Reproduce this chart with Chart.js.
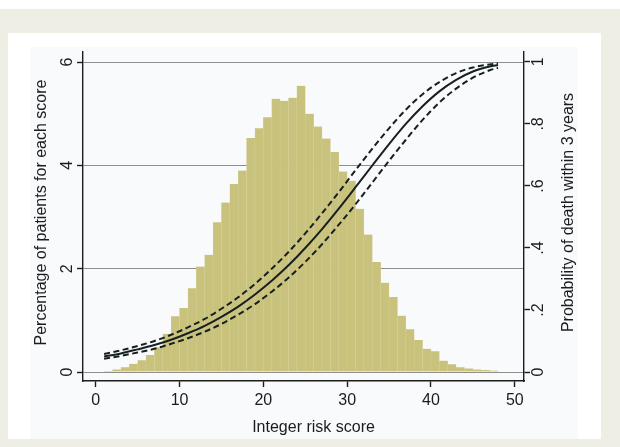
<!DOCTYPE html>
<html>
<head>
<meta charset="utf-8">
<title>Integer risk score</title>
<script src="https://cdn.jsdelivr.net/npm/chart.js@4.4.1/dist/chart.umd.min.js"></script>
<style>
  html, body { margin: 0; padding: 0; }
  body { width: 620px; height: 447px; background: #ffffff; position: relative; overflow: hidden; }
  .band { position: absolute; left: 0; top: 9px; width: 620px; height: 438px; background: #eeeee4; }
  .panel { position: absolute; left: 8px; top: 33px; width: 593px; height: 406px; background: #ffffff; }
  .region { position: absolute; left: 30px; top: 47px; width: 548px; height: 392px; background: #f9fafc; }
  .wrap { position: absolute; left: 0; top: 0; width: 620px; height: 447px; }
</style>
</head>
<body>
<div class="band"></div>
<div class="panel"></div>
<div class="region"></div>
<div class="wrap"><canvas id="riskChart" width="620" height="447"></canvas></div>
<script>
// histogram bins (score k covers k..k+1) and % of patients in each
const binStart = [1, 2, 3, 4, 5, 6, 7, 8, 9, 10, 11, 12, 13, 14, 15, 16, 17, 18, 19, 20, 21, 22, 23, 24,
    25, 26, 27, 28, 29, 30, 31, 32, 33, 34, 35, 36, 37, 38, 39, 40, 41, 42, 43, 44, 45, 46, 47];
const pctPatients = [0.02, 0.05, 0.09, 0.16, 0.23, 0.33, 0.48, 0.74, 1.08, 1.24, 1.62, 2.04, 2.27, 2.90,
    3.28, 3.64, 3.90, 4.53, 4.72, 4.93, 5.29, 5.25, 5.31, 5.54, 5.00, 4.75, 4.52, 4.26, 3.88, 3.70,
    3.16, 2.66, 2.13, 1.73, 1.45, 1.09, 0.83, 0.62, 0.45, 0.40, 0.22, 0.15, 0.09, 0.07, 0.05, 0.04, 0.03];

// probability of death within 3 years, with the dashed band around it
const curveScores = [1, 3, 5, 7, 9, 11, 13, 15, 17, 19, 21, 23, 25, 27, 29, 31, 33, 35, 37, 39, 41, 43, 45, 47, 48];
const probDeath = [0.050, 0.060, 0.073, 0.087, 0.104, 0.125, 0.149, 0.178, 0.211, 0.250, 0.294, 0.344, 0.400,
    0.461, 0.527, 0.596, 0.666, 0.735, 0.800, 0.857, 0.905, 0.942, 0.969, 0.985, 0.990];
const probUpper = [0.058, 0.070, 0.084, 0.100, 0.120, 0.144, 0.171, 0.204, 0.241, 0.284, 0.333, 0.387, 0.447,
    0.512, 0.580, 0.651, 0.720, 0.786, 0.846, 0.896, 0.935, 0.964, 0.982, 0.992, 0.995];
const probLower = [0.043, 0.052, 0.063, 0.075, 0.091, 0.109, 0.130, 0.155, 0.185, 0.219, 0.259, 0.304, 0.355,
    0.412, 0.475, 0.541, 0.611, 0.681, 0.749, 0.813, 0.869, 0.914, 0.949, 0.973, 0.981];

const scoreTicks = [0, 10, 20, 30, 40, 50];
const pctTicks = [0, 2, 4, 6];
const probTicks = [0, 0.2, 0.4, 0.6, 0.8, 1];
const probTickLabels = ['0', '.2', '.4', '.6', '.8', '1'];

const ink = '#1c1c1c';
const fontFamily = '"Liberation Sans", Arial, Helvetica, sans-serif';
const tickFont = { family: fontFamily, size: 16 };

const toPoints = (xs, ys) => xs.map((x, i) => ({ x: x, y: ys[i] }));
const fixTicks = values => scale => { scale.ticks = values.map(v => ({ value: v })); };

// Stata style axis titles (right one reads bottom to top)
const axisTitles = {
    id: 'axisTitles',
    afterDraw(chart) {
        const { ctx, chartArea } = chart;
        const midY = (chartArea.top + chartArea.bottom) / 2 - 4;
        ctx.save();
        ctx.fillStyle = ink;
        ctx.font = '16px ' + fontFamily;
        ctx.textAlign = 'center';
        ctx.textBaseline = 'middle';
        ctx.fillText('Integer risk score', (chartArea.left + chartArea.right) / 2 + 10, 428);
        [[42, 'Percentage of patients for each score'], [569, 'Probability of death within 3 years']].forEach(([x, text]) => {
            ctx.save();
            ctx.translate(x, midY);
            ctx.rotate(-Math.PI / 2);
            ctx.fillText(text, 0, 0);
            ctx.restore();
        });
        ctx.restore();
    }
};

const curve = (data, dashed) => ({
    type: 'line',
    data: toPoints(curveScores, data),
    yAxisID: 'y2',
    borderColor: '#17201f',
    borderWidth: 2,
    borderDash: dashed ? [6, 3.5] : [],
    pointRadius: 0,
    fill: false,
    cubicInterpolationMode: 'monotone',
    order: 1
});

new Chart(document.getElementById('riskChart'), {
    type: 'bar',
    data: {
        datasets: [
            curve(probDeath, false),
            curve(probUpper, true),
            curve(probLower, true),
            {
                type: 'bar',
                data: toPoints(binStart.map(s => s + 0.5), pctPatients),
                yAxisID: 'y',
                backgroundColor: '#c8c27c',
                borderColor: '#d6d29c',
                borderWidth: { left: 0.5, right: 0.5, top: 0, bottom: 0 },
                barPercentage: 1,
                categoryPercentage: 1,
                order: 2
            }
        ]
    },
    options: {
        responsive: false,
        animation: false,
        layout: { padding: { top: 52, left: 0, right: 0, bottom: 0 } },
        plugins: { legend: { display: false }, tooltip: { enabled: false } },
        scales: {
            x: {
                type: 'linear',
                min: -1.52,
                max: 51.1,
                offset: false,
                afterBuildTicks: fixTicks(scoreTicks),
                afterFit: s => { s.height = 66; },
                grid: { drawOnChartArea: false, offset: false, tickLength: 6, tickColor: ink, tickWidth: 1.4 },
                border: { color: ink, width: 1.4 },
                ticks: { color: ink, font: tickFont, padding: 4, maxRotation: 0 }
            },
            y: {
                position: 'left',
                min: -0.174,
                max: 6.194,
                afterBuildTicks: fixTicks(pctTicks),
                afterFit: s => { s.width = 83; },
                grid: { color: '#8e8e8e', lineWidth: 1, tickLength: 6, tickColor: ink, tickWidth: 1.4 },
                border: { color: ink, width: 1.4 },
                ticks: { color: ink, font: tickFont, padding: 5, minRotation: 90, maxRotation: 90, crossAlign: 'center' }
            },
            y2: {
                position: 'right',
                min: -0.029,
                max: 1.032,
                afterBuildTicks: fixTicks(probTicks),
                afterFit: s => { s.width = 96; },
                grid: { drawOnChartArea: false, tickLength: 6, tickColor: ink, tickWidth: 1.4 },
                border: { color: ink, width: 1.4 },
                ticks: {
                    color: ink, font: tickFont, padding: 2, minRotation: 90, maxRotation: 90, crossAlign: 'center',
                    callback: (v, i) => probTickLabels[i]
                }
            }
        }
    },
    plugins: [axisTitles]
});
</script>
</body>
</html>
